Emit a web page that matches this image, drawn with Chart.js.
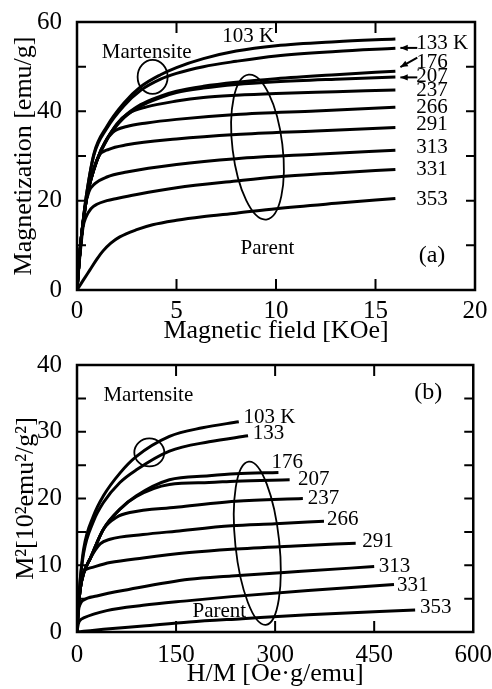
<!DOCTYPE html>
<html>
<head>
<meta charset="utf-8">
<script src="https://cdn.jsdelivr.net/npm/chart.js@4.4.0/dist/chart.umd.min.js"></script>
<style>
  body { margin: 0; background: #fff; }
  canvas { position: absolute; left: 0; }
  #chartA { top: 0; }
  #chartB { top: 340px; }
</style>
</head>
<body>
<canvas id="chartA" width="492" height="350"></canvas>
<canvas id="chartB" width="492" height="349"></canvas>
<script>
// ---------- (a) magnetization vs field ----------
const tempsK = [103, 133, 176, 207, 237, 266, 291, 313, 331, 353];

const hA_103 = [0, 0.1, 0.2, 0.35, 0.5, 0.85, 1.5, 2.35, 3.2, 4.2, 5, 6.35, 8, 10, 13, 16];
const mA_103 = [0, 6, 11, 17, 22, 30.5, 36.6, 41.8, 45.5, 48.2, 49.8, 51.8, 53.5, 54.7, 55.6, 56.2];
const hA_133 = [0, 0.1, 0.2, 0.35, 0.5, 0.85, 1.5, 2.35, 3.2, 4.2, 5, 6.35, 8, 10, 13, 16];
const mA_133 = [0, 6, 11, 17, 22, 30.2, 36.2, 41.2, 44.7, 47.2, 48.5, 50.0, 51.2, 52.4, 53.4, 54.1];
const hA_176 = [0, 0.1, 0.2, 0.35, 0.5, 1, 1.5, 2.35, 3.2, 4.2, 5, 6.35, 8, 10, 13, 16];
const mA_176 = [0, 6, 11, 16.5, 21, 29, 33.8, 38.7, 41.5, 43.4, 44.5, 45.6, 46.5, 47.3, 48.2, 49.0];
const hA_207 = [0, 0.1, 0.2, 0.35, 0.5, 1, 1.5, 2.35, 3.2, 4.2, 5, 6.35, 8, 10, 13, 16];
const mA_207 = [0, 6, 11, 16.5, 21, 29, 33.8, 38.5, 41.2, 43.1, 44.2, 45.2, 46.0, 46.6, 47.2, 47.7];
const hA_237 = [0, 0.1, 0.2, 0.35, 0.5, 1, 1.5, 2, 2.6, 3.5, 5, 6.35, 8, 10, 13, 16];
const mA_237 = [0, 6, 11, 16.5, 21, 29, 33.6, 37.2, 39.6, 41.0, 42.3, 43.1, 43.6, 44.0, 44.4, 44.8];
const hA_266 = [0, 0.1, 0.2, 0.35, 0.5, 1, 1.4, 1.8, 2.5, 3.5, 5, 8, 12, 16];
const mA_266 = [0, 6, 11, 16.5, 21, 29, 33, 35.3, 36.6, 37.4, 38.2, 39.3, 40.1, 40.9];
const hA_291 = [0, 0.1, 0.2, 0.35, 0.5, 0.8, 1.1, 1.6, 2.5, 5, 8, 12, 16];
const mA_291 = [0, 6, 11, 16.5, 21, 26.5, 30, 31.5, 32.5, 33.8, 34.8, 35.6, 36.4];
const hA_313 = [0, 0.1, 0.2, 0.4, 0.6, 0.9, 1.5, 2.5, 5, 8, 12, 16];
const mA_313 = [0, 6, 11, 18.5, 22, 23.8, 25.3, 26.4, 28.1, 29.4, 30.4, 31.3];
const hA_331 = [0, 0.1, 0.2, 0.3, 0.45, 0.7, 1.0, 1.5, 2, 3, 5, 8, 10, 13, 16];
const mA_331 = [0, 5.5, 10, 14.0, 16.3, 18.2, 19.2, 20.0, 20.5, 21.4, 22.9, 24.4, 25.3, 26.2, 27.0];
const hA_353 = [0, 0.3, 0.65, 1.0, 1.3, 1.7, 2.15, 3, 3.8, 5, 6.3, 8, 10, 13, 16];
const mA_353 = [0, 2.1, 4.5, 6.9, 8.7, 10.5, 11.9, 13.5, 14.6, 15.6, 16.4, 17.2, 18.2, 19.4, 20.5];

const xTicksA = [0, 5, 10, 15, 20];
const yTicksA = [0, 20, 40, 60];
const xInnerA = [5, 10, 15];
const yInnerA = [10, 20, 30, 40, 50];

// ---------- (b) Arrott plot M^2 vs H/M ----------
const hmB_103 = [0, 2, 5, 10, 25, 40, 65, 90, 140, 190, 245];
const m2B_103 = [0, 4, 8, 12.4, 17.4, 20.4, 23.8, 26.3, 29.3, 30.6, 31.5];
const hmB_133 = [0, 2, 5, 10, 25, 40, 65, 90, 140, 200, 259];
const m2B_133 = [0, 4, 7.8, 11.8, 16.6, 19.4, 22.4, 24.3, 27.1, 28.5, 29.4];
const hmB_176 = [0, 2, 5, 10, 20, 40, 65, 90, 140, 200, 240, 305];
const m2B_176 = [0, 3.5, 6.5, 8.8, 11.0, 15.4, 18.4, 20.4, 22.8, 23.4, 23.7, 23.9];
const hmB_207 = [0, 2, 5, 10, 20, 40, 65, 90, 140, 200, 240, 322];
const m2B_207 = [0, 3.5, 6.5, 8.8, 11.0, 15.4, 18.4, 20.3, 22.1, 22.4, 22.6, 22.8];
const hmB_237 = [0, 2, 5, 10, 20, 40, 60, 80, 150, 240, 342];
const m2B_237 = [0, 3.5, 6.5, 8.8, 11.0, 15.4, 17.2, 17.9, 18.7, 19.6, 20.0];
const hmB_266 = [0, 2, 5, 10, 20, 35, 50, 100, 150, 234, 300, 374];
const m2B_266 = [0, 3.5, 6.5, 8.8, 11.0, 13.2, 13.9, 14.6, 15.1, 15.9, 16.2, 16.6];
const hmB_291 = [0, 2, 5, 10, 20, 50, 100, 170, 234, 330, 422];
const m2B_291 = [0, 3.5, 6.5, 9.0, 9.6, 10.4, 11.1, 11.9, 12.4, 12.9, 13.3];
const hmB_313 = [0, 2, 5, 10, 30, 80, 170, 234, 340, 450];
const m2B_313 = [0, 3.0, 4.2, 4.8, 5.4, 6.4, 7.9, 8.4, 9.1, 9.8];
const hmB_331 = [0, 2, 5, 10, 45, 100, 170, 234, 350, 480];
const m2B_331 = [0, 1.2, 1.8, 2.1, 3.2, 4.0, 4.7, 5.3, 6.2, 7.1];
const hmB_353 = [0, 5, 10, 40, 100, 170, 250, 350, 512];
const m2B_353 = [0, 0.05, 0.1, 0.4, 0.9, 1.5, 2.0, 2.6, 3.3];

const xTicksB = [0, 150, 300, 450, 600];
const yTicksB = [0, 10, 20, 30, 40];
const xInnerB = [150, 300, 450];
const yInnerB = [5, 10, 15, 20, 25, 30, 35];

// annotations: [text, x, y, align, fontPx]
const labelsA = [
  ['103 K', 8.6, 56.8, 'center', 21],
  ['Martensite', 3.5, 53.1, 'center', 21],
  ['133 K', 17.05, 55.1, 'left', 21],
  ['176', 17.05, 51.0, 'left', 21],
  ['207', 17.05, 47.7, 'left', 21],
  ['237', 17.05, 44.6, 'left', 21],
  ['266', 17.05, 40.8, 'left', 21],
  ['291', 17.05, 37.0, 'left', 21],
  ['313', 17.05, 32.0, 'left', 21],
  ['331', 17.05, 27.0, 'left', 21],
  ['353', 17.05, 20.3, 'left', 21],
  ['Parent', 9.57, 9.4, 'center', 21],
  ['(a)', 17.84, 7.6, 'center', 24]
];
const labelsB = [
  ['Martensite', 108, 35.5, 'center', 21],
  ['(b)', 532, 35.8, 'center', 24],
  ['103 K', 252, 32.2, 'left', 21],
  ['133', 266, 29.8, 'left', 21],
  ['176', 294.5, 25.4, 'left', 21],
  ['207', 334.5, 22.8, 'left', 21],
  ['237', 349.5, 20.0, 'left', 21],
  ['266', 378.5, 16.8, 'left', 21],
  ['291', 432, 13.5, 'left', 21],
  ['313', 457, 9.8, 'left', 21],
  ['331', 484.5, 6.95, 'left', 21],
  ['353', 519.5, 3.7, 'left', 21],
  ['Parent', 215.5, 3.0, 'center', 21]
];
// [cx, cy, rxPx, ryPx, rotationDeg]
const ellipsesA = [[3.8, 47.7, 15, 17, 0], [9.07, 32.0, 25, 73, -7]];
const ellipsesB = [[109.5, 26.9, 15, 14, 0], [273, 13.3, 22, 82, -6]];
// [x1, y1, x2, y2] arrow tips at x2,y2
const arrowsA = [[17.1, 54.2, 16.25, 54.2], [17.1, 52.0, 16.25, 49.9], [17.1, 47.6, 16.25, 47.6]];

const FONT = '"Liberation Serif", "Times New Roman", serif';

function makeSets(xs, ys) {
  return xs.map((xa, i) => ({
    label: tempsK[i] + ' K',
    data: xa.map((v, j) => ({ x: v, y: ys[i][j] })),
    borderColor: '#000',
    borderWidth: 3,
    pointRadius: 0,
    fill: false,
    cubicInterpolationMode: 'monotone'
  }));
}

const decor = {
  id: 'decor',
  afterDatasetsDraw(chart, args, opts) {
    const { ctx, chartArea: a } = chart;
    const x = chart.scales.x, y = chart.scales.y;
    ctx.save();
    ctx.strokeStyle = '#000';
    ctx.fillStyle = '#000';

    // inward ticks on all four sides
    ctx.lineWidth = 2;
    ctx.beginPath();
    opts.xInner.forEach(v => {
      const px = x.getPixelForValue(v);
      ctx.moveTo(px, a.bottom); ctx.lineTo(px, a.bottom - 11);
      ctx.moveTo(px, a.top); ctx.lineTo(px, a.top + 11);
    });
    opts.yInner.forEach(v => {
      const py = y.getPixelForValue(v);
      ctx.moveTo(a.left, py); ctx.lineTo(a.left + 9, py);
      ctx.moveTo(a.right, py); ctx.lineTo(a.right - 9, py);
    });
    ctx.stroke();

    ctx.lineWidth = 2.5;
    ctx.strokeRect(a.left, a.top, a.right - a.left, a.bottom - a.top);

    ctx.lineWidth = 1.8;
    opts.ellipses.forEach(([cx, cy, rx, ry, rot]) => {
      ctx.beginPath();
      ctx.ellipse(x.getPixelForValue(cx), y.getPixelForValue(cy), rx, ry, rot * Math.PI / 180, 0, 2 * Math.PI);
      ctx.stroke();
    });

    ctx.lineWidth = 2;
    opts.arrows.forEach(([x1, y1, x2, y2]) => {
      const p1 = [x.getPixelForValue(x1), y.getPixelForValue(y1)];
      const p2 = [x.getPixelForValue(x2), y.getPixelForValue(y2)];
      const ang = Math.atan2(p2[1] - p1[1], p2[0] - p1[0]);
      ctx.beginPath();
      ctx.moveTo(p1[0], p1[1]); ctx.lineTo(p2[0], p2[1]);
      ctx.stroke();
      ctx.beginPath();
      ctx.moveTo(p2[0], p2[1]);
      ctx.lineTo(p2[0] - 8 * Math.cos(ang - 0.4), p2[1] - 8 * Math.sin(ang - 0.4));
      ctx.lineTo(p2[0] - 8 * Math.cos(ang + 0.4), p2[1] - 8 * Math.sin(ang + 0.4));
      ctx.closePath();
      ctx.fill();
    });

    ctx.textBaseline = 'middle';
    opts.labels.forEach(([t, lx, ly, align, size]) => {
      ctx.font = size + 'px ' + FONT;
      ctx.textAlign = align;
      ctx.fillText(t, x.getPixelForValue(lx), y.getPixelForValue(ly));
    });
    ctx.restore();
  }
};

function makeChart(id, sets, cfg) {
  return new Chart(document.getElementById(id), {
    type: 'line',
    data: { datasets: sets },
    plugins: [decor],
    options: {
      responsive: false,
      animation: false,
      devicePixelRatio: 1,
      layout: { padding: { top: cfg.padTop, right: 17, left: 0, bottom: 0 } },
      plugins: {
        legend: { display: false },
        tooltip: { enabled: false },
        decor: cfg.decor
      },
      scales: {
        x: {
          type: 'linear', min: cfg.xTicks[0], max: cfg.xTicks[cfg.xTicks.length - 1],
          afterBuildTicks: s => { s.ticks = cfg.xTicks.map(v => ({ value: v })); },
          afterFit: s => { s.height = cfg.xHeight; },
          grid: { display: false }, border: { display: false },
          ticks: { color: '#000', font: { family: FONT, size: 25 }, padding: cfg.xTickPad, maxRotation: 0 },
          title: { display: true, text: cfg.xTitle, color: '#000', font: { family: FONT, size: 26, lineHeight: 1.0 }, padding: { top: 0, bottom: cfg.xTitlePad } }
        },
        y: {
          type: 'linear', min: cfg.yTicks[0], max: cfg.yTicks[cfg.yTicks.length - 1],
          afterBuildTicks: s => { s.ticks = cfg.yTicks.map(v => ({ value: v })); },
          afterFit: s => { s.width = 77; },
          grid: { display: false }, border: { display: false },
          ticks: { color: '#000', font: { family: FONT, size: 25 }, padding: 7 },
          title: { display: true, text: cfg.yTitle, color: '#000', font: { family: FONT, size: 26, lineHeight: 1.1 }, padding: { top: cfg.yTitlePad, bottom: 0 } }
        }
      }
    }
  });
}

makeChart('chartA',
  makeSets([hA_103, hA_133, hA_176, hA_207, hA_237, hA_266, hA_291, hA_313, hA_331, hA_353],
           [mA_103, mA_133, mA_176, mA_207, mA_237, mA_266, mA_291, mA_313, mA_331, mA_353]),
  {
    padTop: 21, xHeight: 60, xTickPad: -2, yTitlePad: 10, xTitlePad: 6,
    xTicks: xTicksA, yTicks: yTicksA,
    xTitle: 'Magnetic field [KOe]', yTitle: 'Magnetization [emu/g]',
    decor: { xInner: xInnerA, yInner: yInnerA, labels: labelsA, ellipses: ellipsesA, arrows: arrowsA }
  });

makeChart('chartB',
  makeSets([hmB_103, hmB_133, hmB_176, hmB_207, hmB_237, hmB_266, hmB_291, hmB_313, hmB_331, hmB_353],
           [m2B_103, m2B_133, m2B_176, m2B_207, m2B_237, m2B_266, m2B_291, m2B_313, m2B_331, m2B_353]),
  {
    padTop: 25, xHeight: 57, xTickPad: 0, yTitlePad: 12, xTitlePad: 1.5,
    xTicks: xTicksB, yTicks: yTicksB,
    xTitle: 'H/M [Oe·g/emu]', yTitle: 'M²[10²emu²/g²]',
    decor: { xInner: xInnerB, yInner: yInnerB, labels: labelsB, ellipses: ellipsesB, arrows: [] }
  });
</script>
</body>
</html>
